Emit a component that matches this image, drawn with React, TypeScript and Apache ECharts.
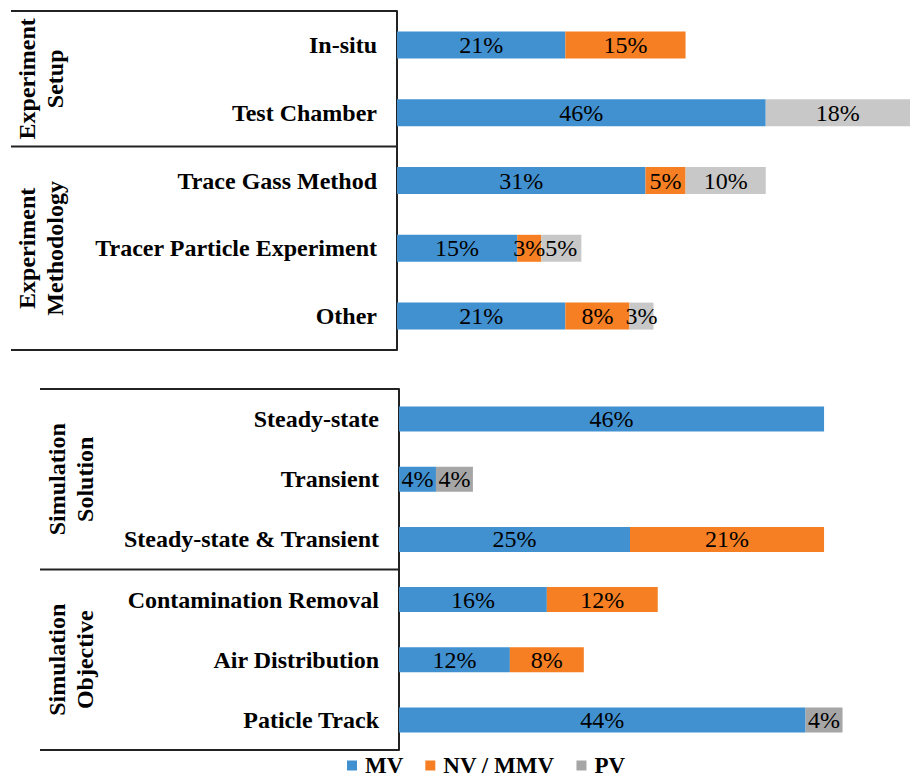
import React, { useEffect, useRef } from "react";
import * as echarts from "echarts";

// ---- data ----
const topCategories = ["In-situ", "Test Chamber", "Trace Gass Method", "Tracer Particle Experiment", "Other"];
const topMV = [21, 46, 31, 15, 21];
const topNV = [15, null, 5, 3, 8];
const topPV = [null, 18, 10, 5, 3];

const bottomCategories = ["Steady-state", "Transient", "Steady-state & Transient", "Contamination Removal", "Air Distribution", "Paticle Track"];
const bottomMV = [46, 4, 25, 16, 12, 44];
const bottomNV = [null, null, 21, 12, 8, null];
const bottomPV = [null, 4, null, null, null, 4];

const seriesNames = ["MV", "NV / MMV", "PV"];
const topGroups = ["Experiment\nSetup", "Experiment\nMethodology"];
const bottomGroups = ["Simulation\nSolution", "Simulation\nObjective"];

const FONT = "Liberation Serif";
const BLUE = "#4190D0";
const ORANGE = "#F57F22";
const GRAY_TOP = "#C8C8C8";
const GRAY_BOTTOM = "#A6A6A6";

export default function App() {
  const ref = useRef<HTMLDivElement>(null);

  useEffect(() => {
    if (!ref.current) return;
    const chart = echarts.init(ref.current, null, { renderer: "svg" });

    const g1 = { left: 397, top: 11, height: 339 };
    const g2 = { left: 399, top: 389, height: 361 };
    const band1 = g1.height / topCategories.length;
    const band2 = g2.height / bottomCategories.length;

    const label = {
      show: true,
      position: "inside",
      color: "#000",
      fontFamily: FONT,
      fontSize: 24,
      fontWeight: "normal",
      formatter: (p: any) => `${p.value}%`,
    };

    const mk = (name: string, data: any[], color: string, idx: number, stack: string, barWidth: number) => ({
      type: "bar",
      name,
      data,
      stack,
      xAxisIndex: idx,
      yAxisIndex: idx,
      barWidth,
      itemStyle: { color },
      label,
    });

    const line = (x1: number, y: number, x2: number) => ({
      type: "line",
      shape: { x1, y1: y, x2, y2: y },
      style: { stroke: "#222", lineWidth: 2 },
    });

    const groupText = (text: string, x: number, y: number) => ({
      type: "text",
      x,
      y,
      rotation: Math.PI / 2,
      style: {
        text,
        fill: "#000",
        fontFamily: FONT,
        fontSize: 24,
        fontWeight: "bold",
        align: "center",
        verticalAlign: "middle",
        lineHeight: 28,
      },
    });

    const yAxisCommon = {
      type: "category",
      inverse: true,
      axisTick: { show: false },
      axisLine: { show: true, lineStyle: { color: "#222", width: 2 } },
      axisLabel: {
        color: "#000",
        fontFamily: FONT,
        fontSize: 24,
        fontWeight: "bold",
        margin: 20,
      },
      splitLine: { show: false },
    };

    chart.setOption({
      animation: false,
      backgroundColor: "#fff",
      textStyle: { fontFamily: FONT },
      grid: [
        { left: g1.left, top: g1.top, height: g1.height, right: 0 },
        { left: g2.left, top: g2.top, height: g2.height, right: 0 },
      ],
      xAxis: [
        { type: "value", gridIndex: 0, min: 0, max: 64, show: false },
        { type: "value", gridIndex: 1, min: 0, max: 55.3, show: false },
      ],
      yAxis: [
        { ...yAxisCommon, gridIndex: 0, data: topCategories },
        { ...yAxisCommon, gridIndex: 1, data: bottomCategories },
      ],
      legend: {
        left: 347,
        top: 754,
        padding: 0,
        icon: "rect",
        itemWidth: 10,
        itemHeight: 10,
        itemGap: 22,
        textStyle: {
          color: "#000",
          fontFamily: FONT,
          fontSize: 23,
          fontWeight: "bold",
          lineHeight: 20,
          padding: [0, 0, 0, 3],
        },
        data: [
          { name: seriesNames[0], itemStyle: { color: BLUE } },
          { name: seriesNames[1], itemStyle: { color: ORANGE } },
          { name: seriesNames[2], itemStyle: { color: GRAY_BOTTOM } },
        ],
      },
      series: [
        mk(seriesNames[0], topMV, BLUE, 0, "top", 27),
        mk(seriesNames[1], topNV, ORANGE, 0, "top", 27),
        mk(seriesNames[2], topPV, GRAY_TOP, 0, "top", 27),
        mk(seriesNames[0], bottomMV, BLUE, 1, "bottom", 25),
        mk(seriesNames[1], bottomNV, ORANGE, 1, "bottom", 25),
        mk(seriesNames[2], bottomPV, GRAY_BOTTOM, 1, "bottom", 25),
      ],
      graphic: [
        line(11, g1.top, g1.left),
        line(11, g1.top + band1 * 2, g1.left),
        line(11, g1.top + g1.height, g1.left),
        line(40, g2.top, g2.left),
        line(40, g2.top + band2 * 3, g2.left),
        line(40, g2.top + g2.height, g2.left),
        groupText(topGroups[0], 41, g1.top + band1 * 1),
        groupText(topGroups[1], 41, g1.top + band1 * 3.5),
        groupText(bottomGroups[0], 71, g2.top + band2 * 1.5),
        groupText(bottomGroups[1], 71, g2.top + band2 * 4.5),
      ],
    });

    return () => chart.dispose();
  }, []);

  return (
    <div
      ref={ref}
      style={{ position: "absolute", left: 0, top: 0, width: 910, height: 778, background: "#fff" }}
    />
  );
}
